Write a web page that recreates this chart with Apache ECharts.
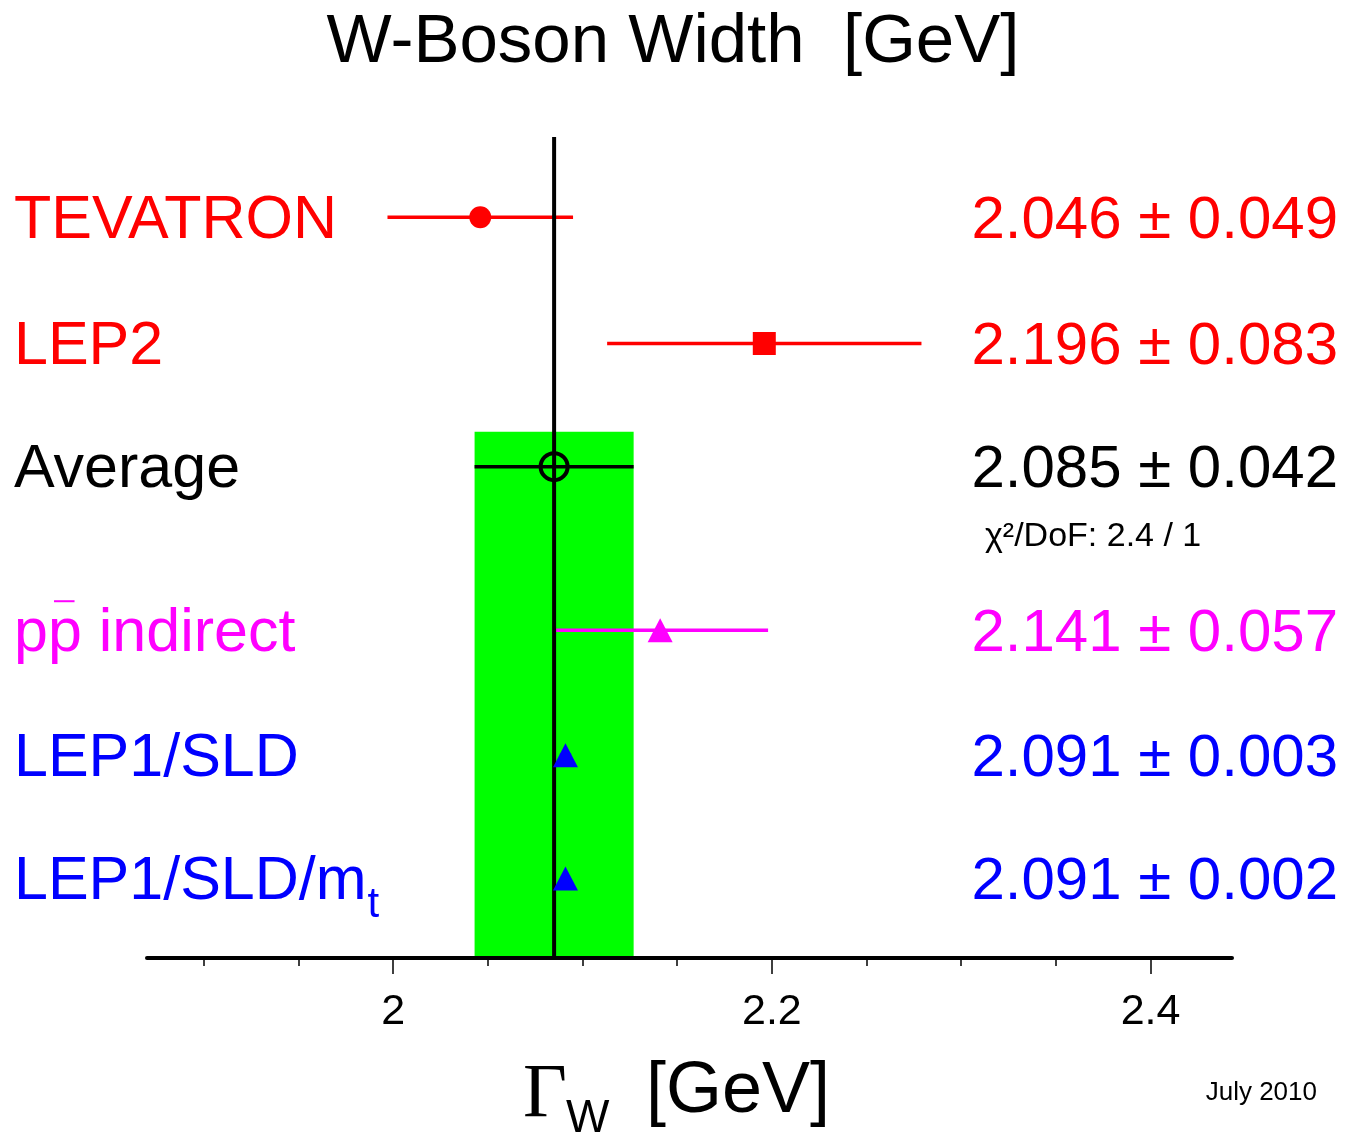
<!DOCTYPE html>
<html>
<head>
<meta charset="utf-8">
<script src="https://cdn.jsdelivr.net/npm/echarts@6/dist/echarts.min.js"></script>
<style>
  html, body { margin: 0; padding: 0; background: #fff; }
  #main { width: 1346px; height: 1132px; }
</style>
</head>
<body>
<div id="main"></div>
<script>
// measurements, top to bottom
const labels = ['TEVATRON', 'LEP2', 'Average', 'pp indirect', 'LEP1/SLD', 'LEP1/SLD/m'];
const labelSubs = ['', '', '', '', '', 't'];
const values = [2.046, 2.196, 2.085, 2.141, 2.091, 2.091];
const errors = [0.049, 0.083, 0.042, 0.057, 0.003, 0.002];
const rows = [5.955, 4.94, 3.95, 2.635, 1.63, 0.64];
const majorTicks = [2, 2.2, 2.4];
const minorTicks = [1.9, 1.95, 2.05, 2.1, 2.15, 2.25, 2.3, 2.35];
const chi2 = '2.4', dof = '1';
const AVG = 2;
const bandTop = 4.23;
const yMax = 6.6;

const colors = ['#ff0000', '#ff0000', '#000000', '#ff00ff', '#0000ff', '#0000ff'];
const symbols = ['circle', 'rect', 'circle', 'triangle', 'triangle', 'triangle'];
const symSizes = [22, 23, 27, [25, 24], [25, 24], [25, 24]];

const FONT = '"Liberation Sans", Arial, Helvetica, sans-serif';
const FS = 61;

const ctx = document.createElement('canvas').getContext('2d');
function textW(s, size) {
  ctx.font = size + 'px ' + FONT;
  return ctx.measureText(s).width;
}

function renderRow(params, api) {
  const i = params.dataIndex;
  const lo = api.coord([values[i] - errors[i], rows[i]]);
  const hi = api.coord([values[i] + errors[i], rows[i]]);
  const y = lo[1];
  const c = colors[i];
  const kids = [
    { type: 'line', shape: { x1: lo[0], y1: y, x2: hi[0], y2: y },
      style: { stroke: c, lineWidth: 3.5 } },
    { type: 'text', x: 14, y: y + 4,
      style: { text: labels[i], fill: c, fontSize: FS, fontFamily: FONT,
               align: 'left', verticalAlign: 'middle' } },
    { type: 'text', x: 1338, y: y + 4,
      style: { text: values[i].toFixed(3) + ' \u00b1 ' + errors[i].toFixed(3),
               fill: c, fontSize: 60, fontFamily: FONT,
               align: 'right', verticalAlign: 'middle' } }
  ];
  if (labelSubs[i]) {
    kids.push({ type: 'text', x: 14 + textW(labels[i], FS) + 1, y: y + 27,
      style: { text: labelSubs[i], fill: c, fontSize: 42, fontFamily: FONT,
               align: 'left', verticalAlign: 'middle' } });
  }
  if (i === 3) {
    // bar over the second p
    const pw = textW('p', FS);
    kids.push({ type: 'line',
      shape: { x1: 14 + pw + 0.1 * FS, y1: y - 29, x2: 14 + 2 * pw - 0.12 * FS, y2: y - 29 },
      style: { stroke: c, lineWidth: 2 } });
  }
  if (i === AVG) {
    kids.push({ type: 'text', x: 985, y: y + 70,
      style: { text: '\u03c7\u00b2/DoF: ' + chi2 + ' / ' + dof, fill: '#000',
               fontSize: 34, fontFamily: FONT, align: 'left', verticalAlign: 'middle' } });
  }
  return { type: 'group', children: kids };
}

const chart = echarts.init(document.getElementById('main'));
chart.setOption({
  animation: false,
  backgroundColor: '#fff',
  title: {
    text: 'W-Boson Width  [GeV]',
    left: 'center',
    top: 3,
    textStyle: { fontFamily: FONT, fontSize: 69, fontWeight: 'normal', color: '#000' }
  },
  grid: { left: 147, right: 114, top: 137, bottom: 174 },
  xAxis: [{
    type: 'value', min: 1.87, max: 2.443, z: 10,
    axisLine: { show: true, onZero: false, lineStyle: { color: '#000', width: 4 } },
    axisTick: { show: true, customValues: majorTicks, length: 16, lineStyle: { color: '#000', width: 1.5 } },
    axisLabel: { customValues: majorTicks, margin: 33, fontFamily: FONT, fontSize: 43, color: '#000',
                 formatter: v => String(v) },
    splitLine: { show: false }
  }, {
    type: 'value', min: 1.87, max: 2.443, position: 'bottom', z: 10,
    axisLine: { show: false },
    axisTick: { show: true, customValues: minorTicks, length: 8, lineStyle: { color: '#000', width: 1.5 } },
    axisLabel: { show: false },
    splitLine: { show: false }
  }],
  yAxis: { type: 'value', min: 0, max: yMax, show: false },
  series: [
    {
      // band of the average
      type: 'custom', z: 1, silent: true,
      data: [[values[AVG], 0]],
      renderItem: (params, api) => {
        const a = api.coord([values[AVG] - errors[AVG], bandTop]);
        const b = api.coord([values[AVG] + errors[AVG], 0]);
        return { type: 'rect', shape: { x: a[0], y: a[1], width: b[0] - a[0], height: b[1] - a[1] },
                 style: { fill: '#00ff00' } };
      }
    },
    {
      type: 'custom', z: 2, silent: true, clip: false,
      data: values.map((v, i) => [v, rows[i]]),
      renderItem: renderRow
    },
    {
      // vertical line at the average
      type: 'custom', z: 3, silent: true,
      data: [[values[AVG], 0]],
      renderItem: (params, api) => {
        const a = api.coord([values[AVG], yMax]);
        const b = api.coord([values[AVG], 0]);
        return { type: 'line', shape: { x1: a[0], y1: a[1], x2: b[0], y2: b[1] },
                 style: { stroke: '#000', lineWidth: 4 } };
      }
    },
    {
      type: 'scatter', z: 4, silent: true,
      data: values.map((v, i) => ({
        value: [v, rows[i]],
        symbol: symbols[i],
        symbolSize: symSizes[i],
        itemStyle: i === AVG
          ? { color: 'rgba(0,0,0,0)', borderColor: '#000', borderWidth: 4, opacity: 1 }
          : { color: colors[i], opacity: 1 }
      }))
    }
  ],
  graphic: [
    { type: 'text', left: 523, top: 1058,
      style: { text: '\u0393', fontFamily: '"Liberation Serif", "Times New Roman", serif', fontSize: 76, fill: '#000' } },
    { type: 'text', left: 566, top: 1096,
      style: { text: 'W', fontFamily: FONT, fontSize: 46, fill: '#000' } },
    { type: 'text', left: 646, top: 1056,
      style: { text: '[GeV]', fontFamily: FONT, fontSize: 72, fill: '#000' } },
    { type: 'text', right: 29, top: 1080,
      style: { text: 'July 2010', fontFamily: FONT, fontSize: 26, fill: '#000' } }
  ]
});
</script>
</body>
</html>
